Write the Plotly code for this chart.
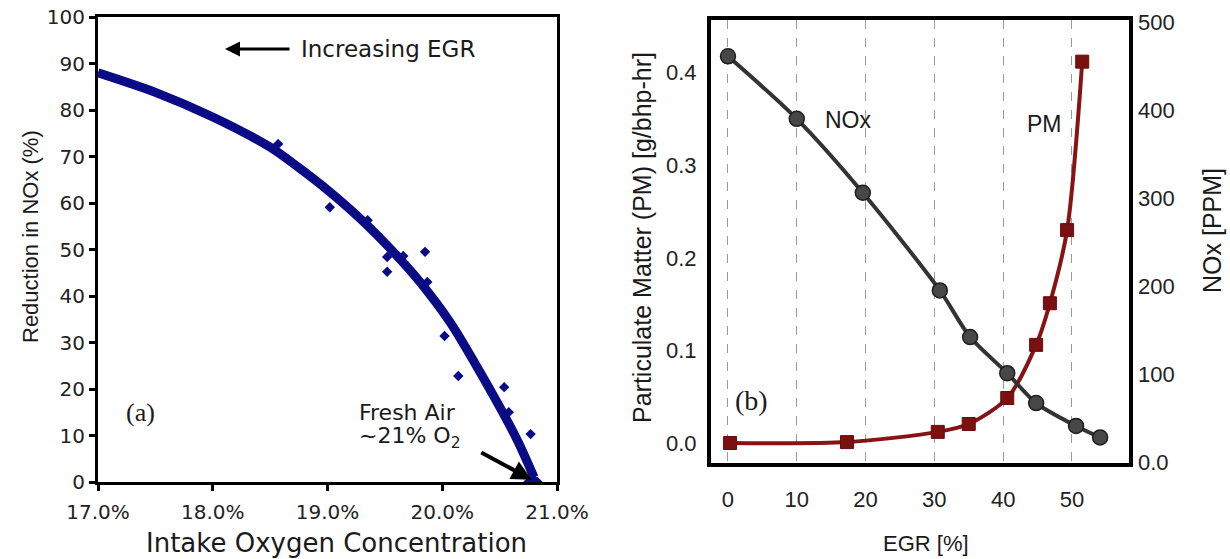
import plotly.graph_objects as go

W, H = 1230, 559

# ---------------- Data: panel (a) ----------------
fit_o2 = [17.0, 17.5, 18.0, 18.5, 18.75, 19.0, 19.3, 19.6, 19.8, 20.07, 20.36, 20.65, 20.8]
fit_red = [88, 83.8, 78.5, 72.0, 67.6, 62.8, 56.3, 48.8, 43.2, 34.3, 22.3, 9.2, 1.0]
pts_o2 = [18.57, 19.02, 19.35, 19.52, 19.66, 19.85, 19.52, 19.87, 20.02, 20.14, 20.54, 20.58, 20.77, 20.75, 20.83, 20.8]
pts_red = [72.7, 59.1, 56.3, 48.4, 48.6, 49.5, 45.2, 43.0, 31.4, 22.8, 20.4, 15.0, 10.3, 0.0, 0.0, 0.5]
a_xticks = [17, 18, 19, 20, 21]
a_xtext = ["17.0%", "18.0%", "19.0%", "20.0%", "21.0%"]
a_yticks = [0, 10, 20, 30, 40, 50, 60, 70, 80, 90, 100]

# ---------------- Data: panel (b) ----------------
nox_egr = [0, 10, 19.6, 30.8, 35.2, 40.6, 44.8, 50.6, 54.1]
nox_ppm = [461, 390, 306, 195, 142, 101, 67, 41, 28]
pm_egr = [0.3, 17.3, 30.5, 35.0, 40.6, 44.8, 46.8, 49.3, 51.5]
pm_val = [0.0, 0.001, 0.012, 0.0205, 0.0486, 0.106, 0.151, 0.230, 0.412]
b_xticks = [0, 10, 20, 30, 40, 50]
b_yticks = [0.0, 0.1, 0.2, 0.3, 0.4]
b_y3ticks = [0, 100, 200, 300, 400, 500]
b_y3text = ["0.0", "100", "200", "300", "400", "500"]

def px(x):
    return x / W

def py(y):
    return 1 - y / H

NAVY = "#0b0b86"
DARK = "#333333"
RED = "#861414"
VER = "DejaVu Sans, Verdana, sans-serif"
ARI = "Liberation Sans, Arial, sans-serif"

fig = go.Figure()

fig.add_trace(go.Scatter(x=fit_o2, y=fit_red, mode="lines", line=dict(color=NAVY, width=9, shape="spline", smoothing=0.8),
                         xaxis="x", yaxis="y", showlegend=False, hoverinfo="skip"))
fig.add_trace(go.Scatter(x=pts_o2, y=pts_red, mode="markers", marker=dict(symbol="diamond", size=8, color=NAVY),
                         xaxis="x", yaxis="y", showlegend=False))

fig.add_trace(go.Scatter(x=pm_egr, y=pm_val, mode="lines+markers",
                         line=dict(color=RED, width=4, shape="spline", smoothing=0.8),
                         marker=dict(symbol="square", size=13, color="#7a1010", line=dict(color="#6a0c0c", width=1)),
                         xaxis="x2", yaxis="y2", showlegend=False))
fig.add_trace(go.Scatter(x=nox_egr, y=nox_ppm, mode="lines+markers",
                         line=dict(color=DARK, width=4, shape="spline", smoothing=0.8),
                         marker=dict(symbol="circle", size=15, color="#474747", line=dict(color="#1e1e1e", width=1.5)),
                         xaxis="x2", yaxis="y3", showlegend=False))

fig.update_layout(
    width=W, height=H,
    margin=dict(l=0, r=0, t=0, b=0, autoexpand=False),
    paper_bgcolor="white", plot_bgcolor="white",
    xaxis=dict(domain=[px(98), px(557)], range=[17, 21], tickvals=a_xticks, ticktext=a_xtext,
               showline=True, linecolor="black", linewidth=3, mirror=True, ticks="outside", ticklen=6, tickwidth=3,
               tickcolor="black", showgrid=False, zeroline=False, anchor="y", automargin=False,
               tickfont=dict(family=VER, size=20, color="#222"), ticklabelstandoff=4),
    yaxis=dict(domain=[py(482), py(17)], range=[0, 100], tickvals=a_yticks,
               showline=True, linecolor="black", linewidth=3, mirror=True, ticks="outside", ticklen=6, tickwidth=3,
               tickcolor="black", showgrid=False, zeroline=False, anchor="x", automargin=False,
               tickfont=dict(family=VER, size=20, color="#222")),
    xaxis2=dict(domain=[px(711), px(1129)], range=[-2.47, 58.3], tickvals=b_xticks,
                showline=True, linecolor="black", linewidth=4, mirror=True, ticks="", showgrid=True,
                gridcolor="#9a9a9a", griddash="dash", gridwidth=1, zeroline=False, anchor="y2", automargin=False,
                tickfont=dict(family=ARI, size=22, color="#222"), ticklabelstandoff=14),
    yaxis2=dict(domain=[py(463), py(20)], range=[-0.0216, 0.457], tickvals=b_yticks, tickformat=".1f",
                showline=True, linecolor="black", linewidth=4, mirror=True, ticks="", showgrid=False,
                zeroline=False, anchor="x2", automargin=False,
                tickfont=dict(family=ARI, size=22, color="#222"), ticklabelstandoff=6),
    yaxis3=dict(overlaying="y2", side="right", anchor="x2", range=[-1.1, 502.3], tickvals=b_y3ticks, ticktext=b_y3text,
                showline=False, ticks="", showgrid=False, zeroline=False, automargin=False,
                tickfont=dict(family=ARI, size=22, color="#222"), ticklabelstandoff=8),
)

ann = []
def text(x, y, t, size, family, **kw):
    d = dict(x=px(x), y=py(y), xref="paper", yref="paper", text=t, showarrow=False,
             font=dict(size=size, family=family, color="#1a1a1a"), xanchor="center", yanchor="middle")
    d.update(kw)
    ann.append(d)

text(30, 237, "Reduction in NOx (%)", 22, ARI, textangle=-90)
text(336, 543, "Intake Oxygen Concentration", 26, VER)
text(642, 238, "Particulate Matter (PM) [g/bhp-hr]", 25, ARI, textangle=-90)
text(1212, 231, "NOx [PPM]", 25, ARI, textangle=-90)
text(926, 543, "EGR [%]", 22, ARI)
text(299, 49, "Increasing EGR", 23, VER, xanchor="left")
text(357, 412, "Fresh Air", 22, VER, xanchor="left")
text(357, 437, "~21% O<sub>2</sub>", 22, VER, xanchor="left")
text(140, 412, "(a)", 26, "Liberation Serif, Times New Roman, serif")
text(752, 400, "(b)", 28, "Liberation Serif, Times New Roman, serif", bgcolor="white", borderpad=6)
text(848, 120, "NOx", 23, ARI)
text(1044, 124, "PM", 23, ARI)

# arrows
ann.append(dict(x=px(225), y=py(49), xref="paper", yref="paper", ax=66, ay=0, showarrow=True,
                arrowhead=2, arrowsize=1, arrowwidth=3, arrowcolor="black", text=""))
ann.append(dict(x=20.78, y=0.5, xref="x", yref="y", ax=-52, ay=-28, showarrow=True,
                arrowhead=2, arrowsize=1, arrowwidth=4, arrowcolor="black", text=""))

fig.update_layout(annotations=ann)
fig.write_html("out.html")
